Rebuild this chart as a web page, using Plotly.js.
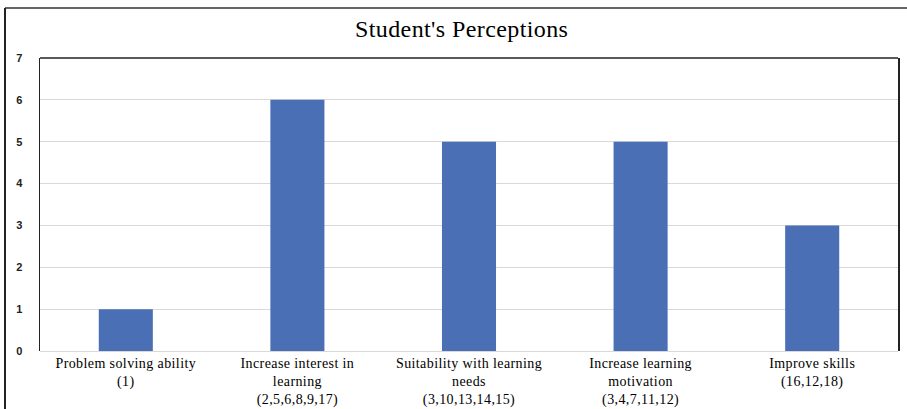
<!DOCTYPE html>
<html>
<head>
<meta charset="utf-8">
<script src="https://cdn.plot.ly/plotly-3.0.1.min.js"></script>
<style>
html,body{margin:0;padding:0;background:#fff;}
#chart{width:907px;height:409px;}
#chart .xtick text{letter-spacing:0.4px;}
#chart .gtitle{letter-spacing:0.4px;}
</style>
</head>
<body>
<div id="chart"></div>
<script>
const categories = [
  "Problem solving ability<br>(1)",
  "Increase interest in<br>learning<br>(2,5,6,8,9,17)",
  "Suitability with learning<br>needs<br>(3,10,13,14,15)",
  "Increase learning<br>motivation<br>(3,4,7,11,12)",
  "Improve skills<br>(16,12,18)"
];
const values = [1, 6, 5, 5, 3];
const yTicks = [0, 1, 2, 3, 4, 5, 6, 7];

const trace = {
  type: 'bar',
  x: categories,
  y: values,
  marker: {color: '#4A6FB5'},
  width: 0.315,
  hoverinfo: 'none'
};

const layout = {
  width: 907, height: 409,
  margin: {l: 40, r: 9, t: 58, b: 58},
  paper_bgcolor: '#fff', plot_bgcolor: '#fff',
  showlegend: false,
  title: {
    text: "Student's Perceptions",
    font: {family: 'Liberation Serif, Times New Roman, serif', size: 24, color: '#000'},
    x: 0.509, xanchor: 'center', y: 0.93, yanchor: 'middle', yref: 'container'
  },
  xaxis: {
    type: 'category',
    showline: false, showgrid: false, zeroline: false,
    ticks: '',
    ticklabelstandoff: 2,
    tickfont: {family: 'Liberation Serif, Times New Roman, serif', size: 14, color: '#000'},
    tickangle: 0
  },
  yaxis: {
    range: [0, 7],
    tickvals: yTicks,
    ticktext: yTicks.map(String),
    showgrid: true, gridcolor: '#D9D9D9', gridwidth: 1,
    zeroline: true, zerolinecolor: '#D9D9D9', zerolinewidth: 1,
    showline: true, linecolor: '#222', linewidth: 1.5, mirror: true,
    ticks: '',
    ticklabelstandoff: 14,
    tickfont: {family: 'Liberation Sans, Arial, sans-serif', size: 11, color: '#222', weight: 'bold'}
  },
  shapes: [
    {type: 'line', xref: 'paper', yref: 'paper', x0: 0, x1: 1, y0: 1, y1: 1, line: {color: '#222', width: 1.5}},
    {type: 'line', xref: 'paper', yref: 'paper', x0: -0.0408, x1: 1.02, y0: 1.1706, y1: 1.1706, line: {color: '#333', width: 1.5}},
    {type: 'line', xref: 'paper', yref: 'paper', x0: -0.0408, x1: -0.0408, y0: 1.1706, y1: -0.21, line: {color: '#222', width: 2}}
  ]
};

Plotly.newPlot('chart', [trace], layout, {displayModeBar: false, staticPlot: true});
</script>
</body>
</html>
